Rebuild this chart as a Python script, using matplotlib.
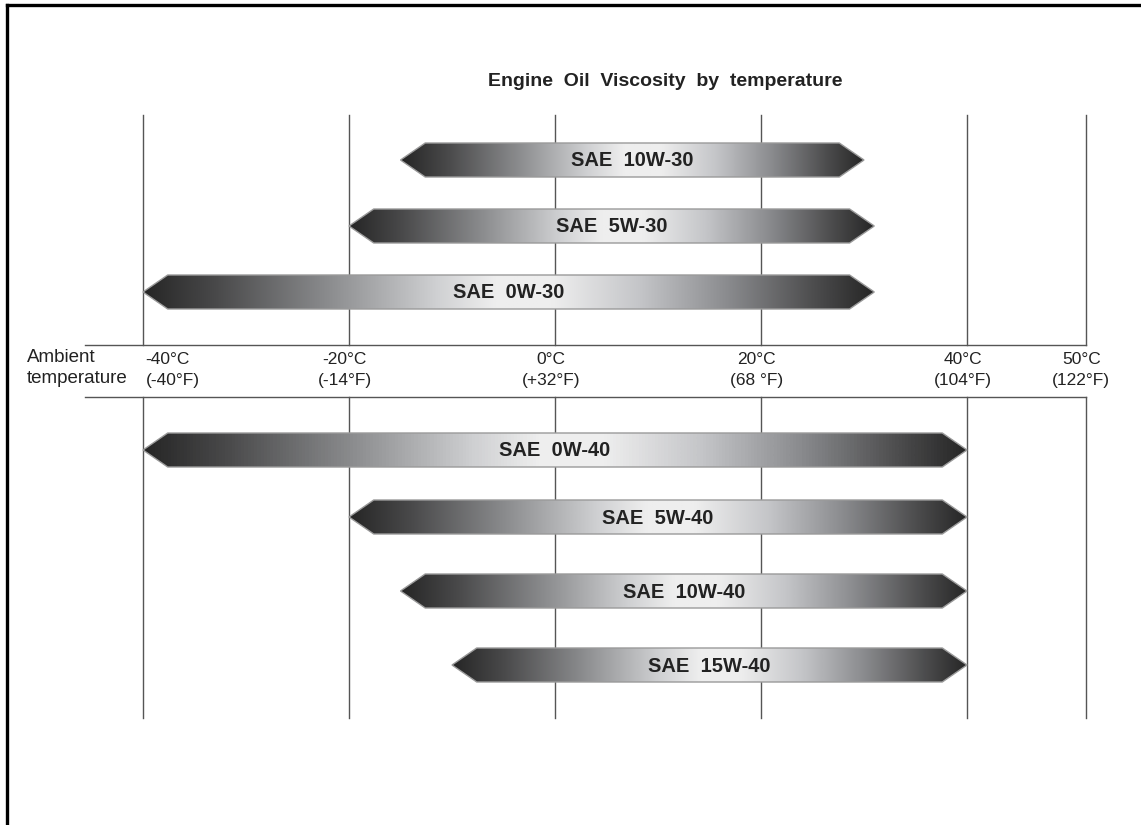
import numpy as np
import matplotlib
matplotlib.use("Agg")
import matplotlib.pyplot as plt
from matplotlib.patches import Polygon
from matplotlib.colors import LinearSegmentedColormap

plt.rcParams['font.family'] = ['Liberation Sans', 'DejaVu Sans']

# oil grades and the temperature span (deg C) each one covers
grades = ["SAE  10W-30", "SAE  5W-30", "SAE  0W-30",
          "SAE  0W-40", "SAE  5W-40", "SAE  10W-40", "SAE  15W-40"]
low_c = [-15, -20, -40, -40, -20, -15, -10]
high_c = [30, 31, 31, 40, 40, 40, 40]

# temperature scale marks
temps_c = [-40, -20, 0, 20, 40, 50]
temps_label = ["-40°C\n(-40°F)", "-20°C\n(-14°F)", "0°C\n(+32°F)",
               "20°C\n(68 °F)", "40°C\n(104°F)", "50°C\n(122°F)"]

# layout (pixel rows, figure is 1141 x 825)
row_y = [160, 226, 292, 450, 517, 591, 665]
bar_h = 34
head = 2.4
band_top, band_bot = 345, 397
line_top, line_bot = 115, 718


def fwd(t):
    t = np.asarray(t, dtype=float)
    return np.where(t <= 40, t, 40 + (t - 40) * 1.155)


def inv(x):
    x = np.asarray(x, dtype=float)
    return np.where(x <= 40, x, 40 + (x - 40) / 1.155)


fig = plt.figure(figsize=(11.41, 8.25), dpi=100)
ax = fig.add_axes([0, 0, 1, 1])
ax.set_xscale('function', functions=(fwd, inv))
ax.set_xlim(-555 / 10.3, float(inv(586 / 10.3)))
ax.set_ylim(825, 0)
ax.axis('off')

# frame (left and top only, the rest is cropped)
fig.add_artist(plt.Line2D([0.0065, 0.0065], [0, 0.994], color='black', lw=2.4))
fig.add_artist(plt.Line2D([0.0065, 1], [0.994, 0.994], color='black', lw=2.4))

grey = '#555555'
x_left = float(inv((85 - 555) / 10.3))
ax.plot([x_left, 50], [band_top, band_top], color=grey, lw=1.0)
ax.plot([x_left, 50], [band_bot, band_bot], color=grey, lw=1.0)
for t in temps_c:
    ax.plot([t, t], [line_top, band_top], color=grey, lw=1.0, zorder=1)
    ax.plot([t, t], [band_bot, line_bot], color=grey, lw=1.0, zorder=1)

for t, lab in zip(temps_c, temps_label):
    if t == -40:
        ax.text(t + 0.25, 370, lab, ha='left', va='center', fontsize=12.5,
                linespacing=1.5, color='#222222')
    else:
        ax.text(t - 0.4, 370, lab, ha='center', va='center', fontsize=12.5,
                linespacing=1.5, color='#222222')
ax.text(-51.3, 368, "Ambient\ntemperature", ha='left', va='center',
        fontsize=13.5, linespacing=1.3, color='#222222')

ax.text(10.7, 81, "Engine  Oil  Viscosity  by  temperature", ha='center',
        va='center', fontsize=14, fontweight='bold', color='#222222')

cmap = LinearSegmentedColormap.from_list('oil', [
    (0.0, '#262626'), (0.1, '#4a4a4b'), (0.25, '#8a8b8d'), (0.4, '#cfd0d2'),
    (0.48, '#eeeeee'), (0.56, '#eeeeee'), (0.68, '#c4c5c8'), (0.8, '#8a8b8e'),
    (0.92, '#4c4c4d'), (1.0, '#262626')])
grad = np.linspace(0, 1, 256).reshape(1, -1)

for name, lo, hi, yc in zip(grades, low_c, high_c, row_y):
    top, bot = yc - bar_h / 2, yc + bar_h / 2
    pts = [(lo, yc), (lo + head, top), (hi - head, top), (hi, yc),
           (hi - head, bot), (lo + head, bot)]
    poly = Polygon(pts, closed=True, facecolor='none', edgecolor='#9a9a9a',
                   lw=1.0, zorder=3)
    ax.add_patch(poly)
    im = ax.imshow(grad, cmap=cmap, aspect='auto', extent=[lo, hi, bot, top],
                   zorder=2, interpolation='bilinear')
    im.set_clip_path(poly)
    ax.text((lo + hi) / 2, yc + 1, name, ha='center', va='center',
            fontsize=14.5, fontweight='bold', color='#222222', zorder=4)

ax.set_xlim(-555 / 10.3, float(inv(586 / 10.3)))
ax.set_ylim(825, 0)

fig.savefig('out.png', dpi=100)
